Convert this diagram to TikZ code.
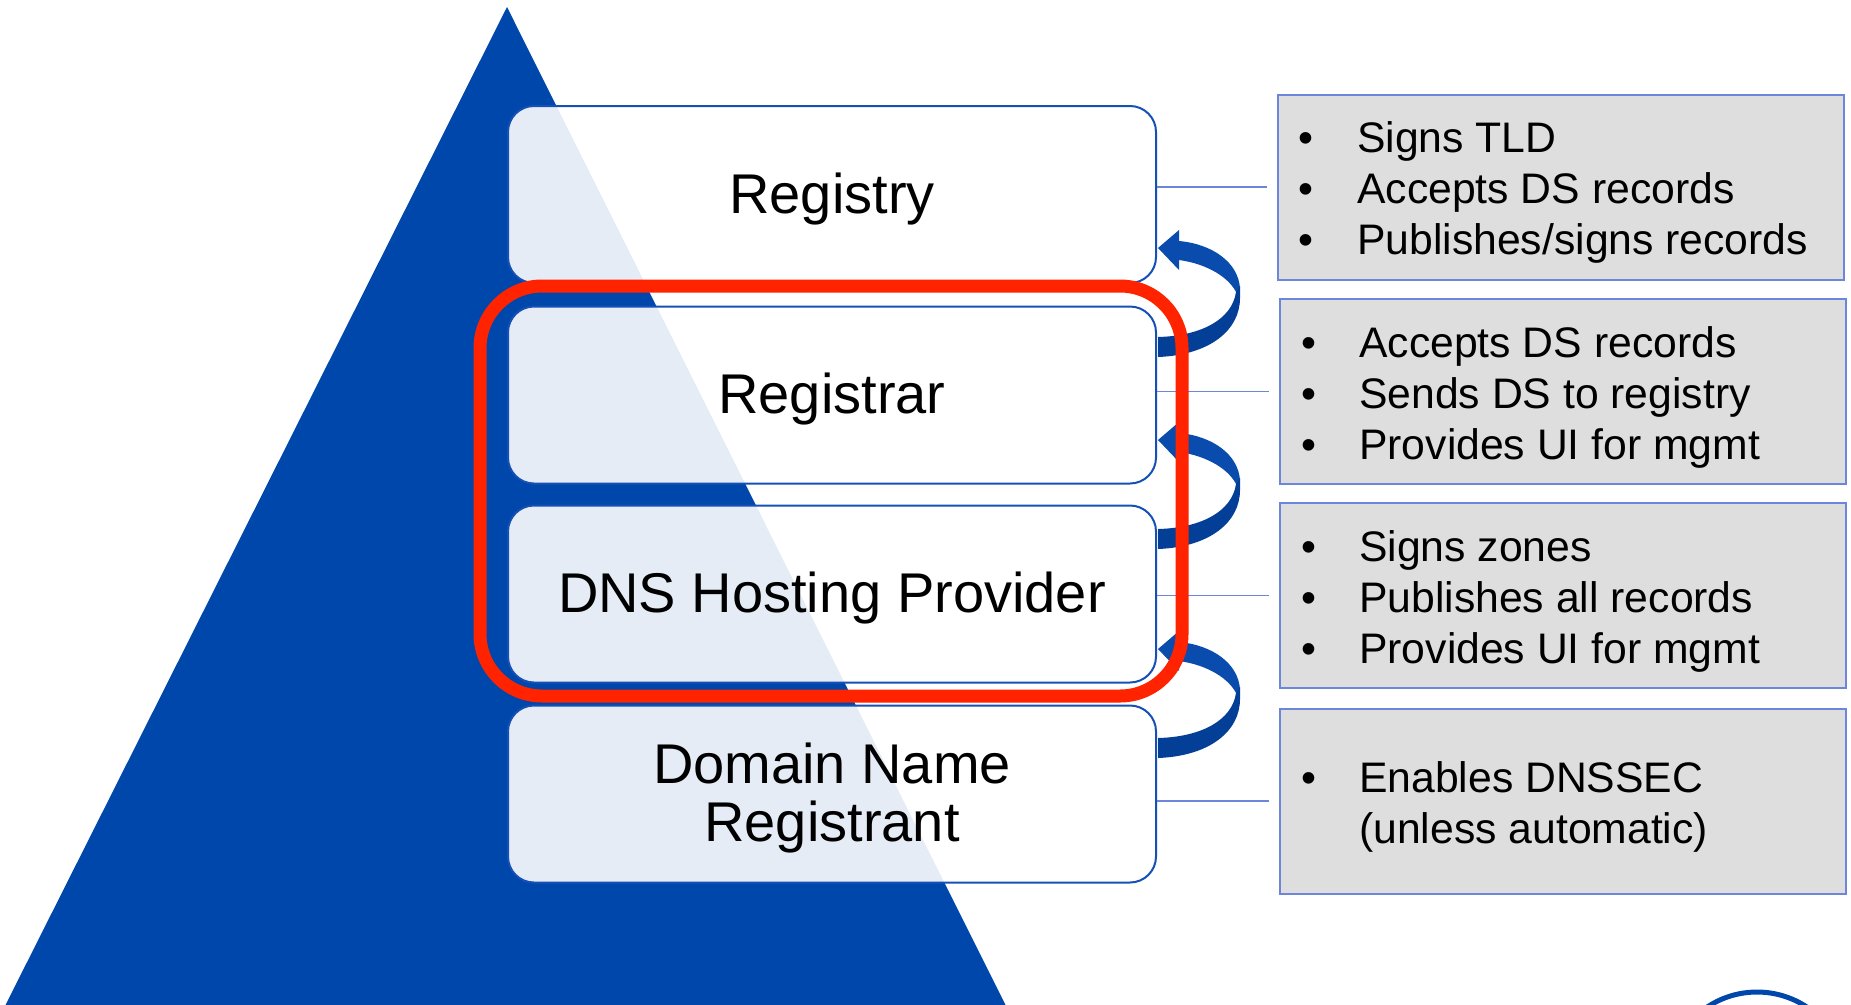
\documentclass[tikz,border=0pt]{standalone}
\usepackage{fontspec}
\setmainfont{Liberation Sans}
\definecolor{triblue}{HTML}{0047AB}
\definecolor{boxborder}{HTML}{1450B5}
\definecolor{arrowup}{HTML}{0A4CAE}
\definecolor{arrowdn}{HTML}{033F96}
\definecolor{redc}{HTML}{FF2300}
\definecolor{infofill}{HTML}{DEDEDE}
\definecolor{infoborder}{HTML}{6E86D9}
\newcommand\cvarrow[1]{%
  \fill[arrowup] (1179,#1-18) -- (1158,#1) -- (1179,#1+22) -- (1179,#1+12)
    .. controls (1208,#1+16) and (1230,#1+30) .. (1237,#1+46) -- (1240,#1+40)
    .. controls (1238,#1+14) and (1212,#1-4) .. (1179,#1-7) -- cycle;
  \fill[arrowdn] (1236,#1+44) -- (1240,#1+38) -- (1240,#1+50)
    .. controls (1240,#1+82) and (1210,#1+107) .. (1158,#1+109) -- (1158,#1+89)
    .. controls (1200,#1+88) and (1232,#1+72) .. (1236,#1+44) -- cycle;
}
\tikzset{
  mainbox/.style={draw=boxborder, line width=2pt, fill=white, fill opacity=0.9,
    rounded corners=26pt, minimum width=648pt, minimum height=177pt, inner sep=0pt},
  lbl/.style={inner sep=0pt, font=\fontsize{56}{58}\selectfont, text=black},
  infobox/.style={draw=infoborder, line width=2pt, fill=infofill,
    minimum width=566pt, minimum height=185pt, inner sep=0pt},
  itxt/.style={inner sep=0pt, font=\fontsize{42.7}{51}\selectfont, text=black, anchor=base west},
  bul/.style={inner sep=0pt, font=\fontsize{42.7}{51}\selectfont, text=black, anchor=base},
  conn/.style={draw=infoborder, line width=1.6pt},
  redframe/.style={draw=redc, line width=13pt, rounded corners=62pt,
    minimum width=702pt, minimum height=410pt, inner sep=0pt}
}
\begin{document}
\begin{tikzpicture}[x=1pt,y=-1pt]
\useasboundingbox (0,0) rectangle (1851,1004);
\clip (0,0) rectangle (1851,1004);
\fill[white] (0,0) rectangle (1851,1004);
% pyramid
\fill[triblue] (507,7) -- (3,1010) -- (1008,1010) -- cycle;
% bottom-right arc
\draw[triblue, line width=5pt] (1757,1082) circle (90);
% main boxes
\node[mainbox] (registry) at (832,194.5) {};
\node[mainbox] (registrar) at (832,395) {};
\node[mainbox] (dns) at (832,594) {};
\node[mainbox] (registrant) at (832,794) {};
\node[lbl, anchor=base] (tregistry) at (832,213) {Registry};
\node[lbl, anchor=base] (tregistrar) at (832,413) {Registrar};
\node[lbl, anchor=base] (tdns) at (832,612) {DNS Hosting Provider};
\node[lbl, anchor=base] (tdom1) at (832,783) {Domain Name};
\node[lbl, anchor=base] (tdom2) at (832,841) {Registrant};
% info boxes
\node[infobox] (info1) at (1560.5,187) {};
\node[infobox] (info2) at (1563,391.5) {};
\node[infobox] (info3) at (1563,595.5) {};
\node[infobox] (info4) at (1563,801) {};
% connectors
\draw[conn] (registry.east |- info1.west) -- ([xshift=-10pt]info1.west);
\draw[conn] (registrar.east |- info2.west) -- ([xshift=-10pt]info2.west);
\draw[conn] (dns.east |- info3.west) -- ([xshift=-10pt]info3.west);
\draw[conn] (registrant.east |- info4.west) -- ([xshift=-10pt]info4.west);
% info texts
\node[bul] (b11) at (1306,152) {•};
\node[itxt] (i11) at (1357,152) {Signs TLD};
\node[bul] (b12) at (1306,203) {•};
\node[itxt] (i12) at (1357,203) {Accepts DS records};
\node[bul] (b13) at (1306,254) {•};
\node[itxt] (i13) at (1357,254) {Publishes/signs records};
\node[bul] (b21) at (1309,357) {•};
\node[itxt] (i21) at (1359,357) {Accepts DS records};
\node[bul] (b22) at (1309,408) {•};
\node[itxt] (i22) at (1359,408) {Sends DS to registry};
\node[bul] (b23) at (1309,459) {•};
\node[itxt] (i23) at (1359,459) {Provides UI for mgmt};
\node[bul] (b31) at (1309,561) {•};
\node[itxt] (i31) at (1359,561) {Signs zones};
\node[bul] (b32) at (1309,612) {•};
\node[itxt] (i32) at (1359,612) {Publishes all records};
\node[bul] (b33) at (1309,663) {•};
\node[itxt] (i33) at (1359,663) {Provides UI for mgmt};
\node[bul] (b41) at (1309,792) {•};
\node[itxt] (i41) at (1359,792) {Enables DNSSEC};
\node[itxt] (i42) at (1359,843) {(unless automatic)};
% curved arrows
\cvarrow{248}
\cvarrow{440}
\cvarrow{649}
% red focus frame
\node[redframe] (focus) at (831,491) {};
\end{tikzpicture}
\end{document}
